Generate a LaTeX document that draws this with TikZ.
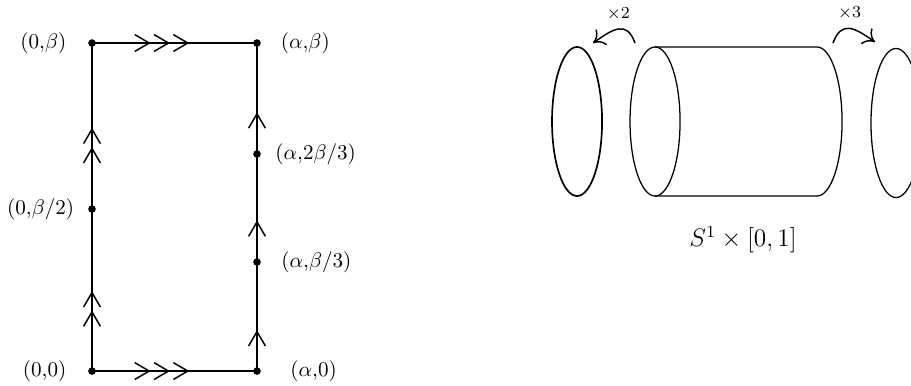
\documentclass[tikz,border=0pt]{standalone}
\usetikzlibrary{arrows.meta,decorations.markings,positioning}
\tikzset{
  chev/.tip={Straight Barb[length=2.4mm,width=2.8mm,sep=0.45mm]},
  gl edge/.style={draw=black, line width=0.7pt},
  gl dot/.style={circle, fill=black, inner sep=0pt, minimum size=3.6pt},
  gl label/.style={inner sep=0pt},
  gl ring/.style={draw=black, line width=0.6pt},
  gl turn/.style={draw=black, line width=0.7pt, -{To[length=1.8mm,width=3.2mm]}},
  gl times/.style={font=\footnotesize, inner sep=0pt},
  gl marks/.style 2 args={postaction={decorate, decoration={markings,
      mark=at position #1 with {\arrow{#2}}}}},
}
\begin{document}
\begin{tikzpicture}
  \useasboundingbox (0,0) rectangle (15.183,6.417);
  \clip (0,0) rectangle (15.183,6.417);

  % corners and marked points of the rectangle
  \node[gl dot] (p00) at (1.533,0.233) {};
  \node[gl dot] (pa0) at (4.283,0.233) {};
  \node[gl dot] (p0b) at (1.533,5.700) {};
  \node[gl dot] (pab) at (4.283,5.700) {};
  \node[gl dot] (p0h) at (1.533,2.933) {};
  \node[gl dot] (pa1) at (4.283,2.050) {};
  \node[gl dot] (pa2) at (4.283,3.850) {};

  % edges with the gluing marks
  \draw[gl edge, gl marks={0.606}{chev[]chev[]chev[]}] (p00.center) -- (pa0.center);
  \draw[gl edge, gl marks={0.606}{chev[]chev[]chev[]}] (p0b.center) -- (pab.center);
  \draw[gl edge, gl marks={0.51}{chev[]chev[]}] (p00.center) -- (p0h.center);
  \draw[gl edge, gl marks={0.506}{chev[]chev[]}] (p0h.center) -- (p0b.center);
  \draw[gl edge, gl marks={0.40}{chev[]}] (pa0.center) -- (pa1.center);
  \draw[gl edge, gl marks={0.41}{chev[]}] (pa1.center) -- (pa2.center);
  \draw[gl edge, gl marks={0.40}{chev[]}] (pa2.center) -- (pab.center);

  \node[gl label, left=0.35cm of p00] (l00) {$(0{,}0)$};
  \node[gl label, right=0.48cm of pa0] (la0) {$(\alpha{,}0)$};
  \node[gl label, left=0.35cm of p0b] (l0b) {$(0{,}\beta)$};
  \node[gl label, right=0.32cm of pab] (lab) {$(\alpha{,}\beta)$};
  \node[gl label, left=0.22cm of p0h] (l0h) {$(0{,}\beta/2)$};
  \node[gl label, right=0.33cm of pa1] (la1) {$(\alpha{,}\beta/3)$};
  \node[gl label, right=0.23cm of pa2] (la2) {$(\alpha{,}2\beta/3)$};

  % cylinder and the two end circles
  \coordinate (ringL) at (9.617,4.392);
  \coordinate (cylL) at (10.917,4.392);
  \coordinate (cylR) at (13.617,4.392);
  \coordinate (ringR) at (14.933,4.367);
  \draw[gl ring, line width=0.8pt] (ringL) ellipse [x radius=0.417, y radius=1.242];
  \draw[gl ring] (cylL) ellipse [x radius=0.417, y radius=1.242];
  \draw[gl ring] ([yshift=1.242cm]cylL) -- ([yshift=1.242cm]cylR)
    arc[start angle=90, end angle=-90, x radius=0.417, y radius=1.242]
    -- ([yshift=-1.242cm]cylL);
  \draw[gl ring] (ringR) ellipse [x radius=0.417, y radius=1.242];

  \node[font=\large] (cyllabel) at (12.383,2.417) {$S^1\times[0,1]$};

  % covering maps
  \coordinate (t2s) at (10.583,5.700);
  \coordinate (t2e) at (9.883,5.700);
  \coordinate (t3s) at (13.883,5.700);
  \coordinate (t3e) at (14.583,5.717);
  \draw[gl turn] (t2s) to[out=110, in=35, looseness=1.5] node[gl times, above=4pt] (x2) {$\times2$} (t2e);
  \draw[gl turn] (t3s) to[out=70, in=145, looseness=1.5] node[gl times, above=4pt] (x3) {$\times3$} (t3e);
\end{tikzpicture}
\end{document}
